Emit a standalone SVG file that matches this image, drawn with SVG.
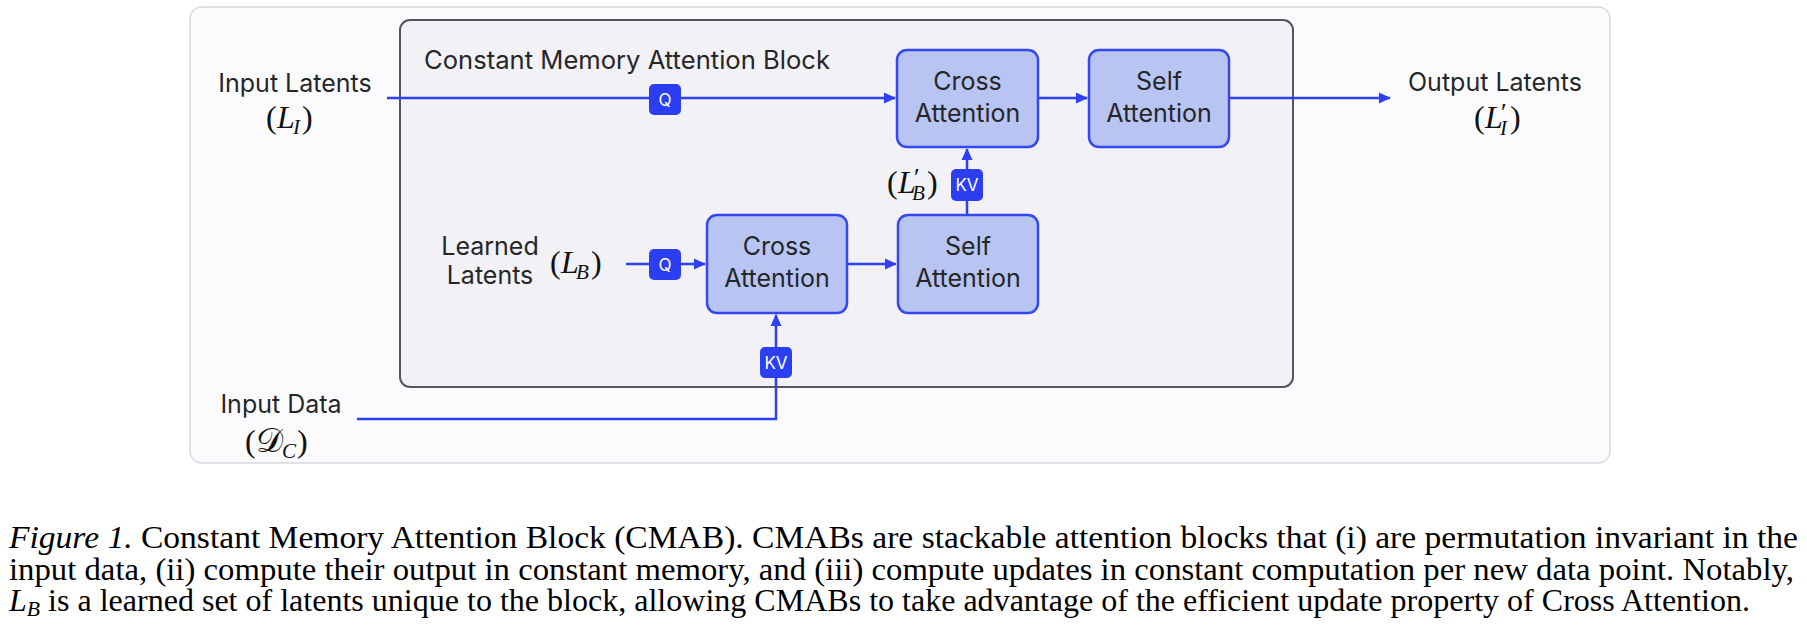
<svg xmlns="http://www.w3.org/2000/svg" width="1807" height="644" viewBox="0 0 1807 644">
<style>
.lbl{font-family:Inter,"Noto Sans","Liberation Sans",sans-serif;font-size:25px;fill:#262629}
.box{fill:#b8c5f3;stroke:#3447f0;stroke-width:2.5}
.badge{fill:#2b3ef2}
.bt{font-family:Inter,"Liberation Sans",sans-serif;font-size:17px;fill:#ffffff;text-anchor:middle}
.math{font-family:"Liberation Serif","Times New Roman",serif;font-size:32px;fill:#111}
.it{font-style:italic}
.sub{font-size:21px;font-style:italic}
.pr{font-size:26px}
.cap{font-family:"Liberation Serif","Times New Roman",serif;font-size:31px;fill:#000}
.conn{fill:none;stroke:#2f40f3;stroke-width:2.5}
</style>
<defs>
<marker id="arr" markerUnits="userSpaceOnUse" markerWidth="12" markerHeight="12" viewBox="0 0 12 12" refX="11" refY="6" orient="auto">
<path d="M0,0.5 L12,6 L0,11.5 Z" fill="#2f40f3"/>
</marker>
</defs>
<rect x="190" y="7" width="1420" height="456" rx="12" fill="#fbfbfd" stroke="#d8d8e0" stroke-width="1.5"/>
<g id="cmab">
<rect x="400" y="20" width="893" height="367" rx="10" fill="#f2f1f5" stroke="#55555d" stroke-width="2"/>
<text class="lbl" x="424" y="69" textLength="406" lengthAdjust="spacingAndGlyphs">Constant Memory Attention Block</text>
</g>
<g id="connectors">
<path class="conn" d="M387,98 H895" marker-end="url(#arr)"/>
<path class="conn" d="M1038,98 H1087" marker-end="url(#arr)"/>
<path class="conn" d="M1229,98 H1390" marker-end="url(#arr)"/>
<path class="conn" d="M967,215 V149" marker-end="url(#arr)"/>
<path class="conn" d="M626,264 H705" marker-end="url(#arr)"/>
<path class="conn" d="M847,264 H896" marker-end="url(#arr)"/>
<path class="conn" d="M357,419 H776 V315" marker-end="url(#arr)"/>
</g>
<g id="q1"><rect class="badge" x="649" y="84" width="32" height="31" rx="5"/><text class="bt" x="665" y="106">Q</text></g>
<g id="q2"><rect class="badge" x="649" y="249" width="32" height="31" rx="5"/><text class="bt" x="665" y="271">Q</text></g>
<g id="kv1"><rect class="badge" x="951" y="169" width="32" height="32" rx="5"/><text class="bt" x="967" y="191">KV</text></g>
<g id="kv2"><rect class="badge" x="760" y="347" width="32" height="31" rx="5"/><text class="bt" x="776" y="369">KV</text></g>
<g id="cross-top"><rect class="box" x="897" y="50" width="141" height="97" rx="10"/><text class="lbl" x="967.5" y="90" text-anchor="middle">Cross</text><text class="lbl" x="967.5" y="122" text-anchor="middle">Attention</text></g>
<g id="self-top"><rect class="box" x="1089" y="50" width="140" height="97" rx="10"/><text class="lbl" x="1159" y="90" text-anchor="middle">Self</text><text class="lbl" x="1159" y="122" text-anchor="middle">Attention</text></g>
<g id="cross-bottom"><rect class="box" x="707" y="215" width="140" height="98" rx="10"/><text class="lbl" x="777" y="255" text-anchor="middle">Cross</text><text class="lbl" x="777" y="287" text-anchor="middle">Attention</text></g>
<g id="self-bottom"><rect class="box" x="898" y="215" width="140" height="98" rx="10"/><text class="lbl" x="968" y="255" text-anchor="middle">Self</text><text class="lbl" x="968" y="287" text-anchor="middle">Attention</text></g>
<g id="input-latents">
<text class="lbl" x="295" y="92" text-anchor="middle">Input Latents</text>
<text class="math" y="128"><tspan x="266">(</tspan><tspan x="277" class="it">L</tspan><tspan x="293" y="134" class="sub">I</tspan><tspan x="302" y="128">)</tspan></text>
</g>
<g id="output-latents">
<text class="lbl" x="1408" y="91">Output Latents</text>
<text class="math" y="128"><tspan x="1474">(</tspan><tspan x="1485" class="it">L</tspan><tspan x="1501" y="121" class="pr">′</tspan><tspan x="1500" y="135" class="sub">I</tspan><tspan x="1510" y="128">)</tspan></text>
</g>
<g id="learned-latents">
<text class="lbl" x="490" y="255" text-anchor="middle">Learned</text>
<text class="lbl" x="490" y="284" text-anchor="middle">Latents</text>
<text class="math" y="273"><tspan x="550">(</tspan><tspan x="561" class="it">L</tspan><tspan x="576" y="279" class="sub">B</tspan><tspan x="591" y="273">)</tspan></text>
</g>
<g id="lb-prime">
<text class="math" y="193"><tspan x="887">(</tspan><tspan x="898" class="it">L</tspan><tspan x="914" y="186" class="pr">′</tspan><tspan x="912" y="200" class="sub">B</tspan><tspan x="927" y="193">)</tspan></text>
</g>
<g id="input-data">
<text class="lbl" x="281" y="413" text-anchor="middle">Input Data</text>
<text class="math" y="452"><tspan x="245">(</tspan><tspan x="256" font-family="DejaVu Serif, serif" font-size="34">𝒟</tspan><tspan x="282" y="458" class="sub">C</tspan><tspan x="297" y="452">)</tspan></text>
</g>
<g id="caption">
<text class="cap" x="9" y="548" textLength="1789" lengthAdjust="spacingAndGlyphs"><tspan font-style="italic">Figure 1.</tspan> Constant Memory Attention Block (CMAB). CMABs are stackable attention blocks that (i) are permutation invariant in the</text>
<text class="cap" x="9" y="580" textLength="1785" lengthAdjust="spacingAndGlyphs">input data, (ii) compute their output in constant memory, and (iii) compute updates in constant computation per new data point. Notably,</text>
<text class="cap" x="9" y="611" textLength="1741" lengthAdjust="spacingAndGlyphs"><tspan font-style="italic">L</tspan><tspan font-style="italic" font-size="21" dy="5">B</tspan><tspan dy="-5"> is a learned set of latents unique to the block, allowing CMABs to take advantage of the efficient update property of Cross Attention.</tspan></text>
</g>
</svg>
